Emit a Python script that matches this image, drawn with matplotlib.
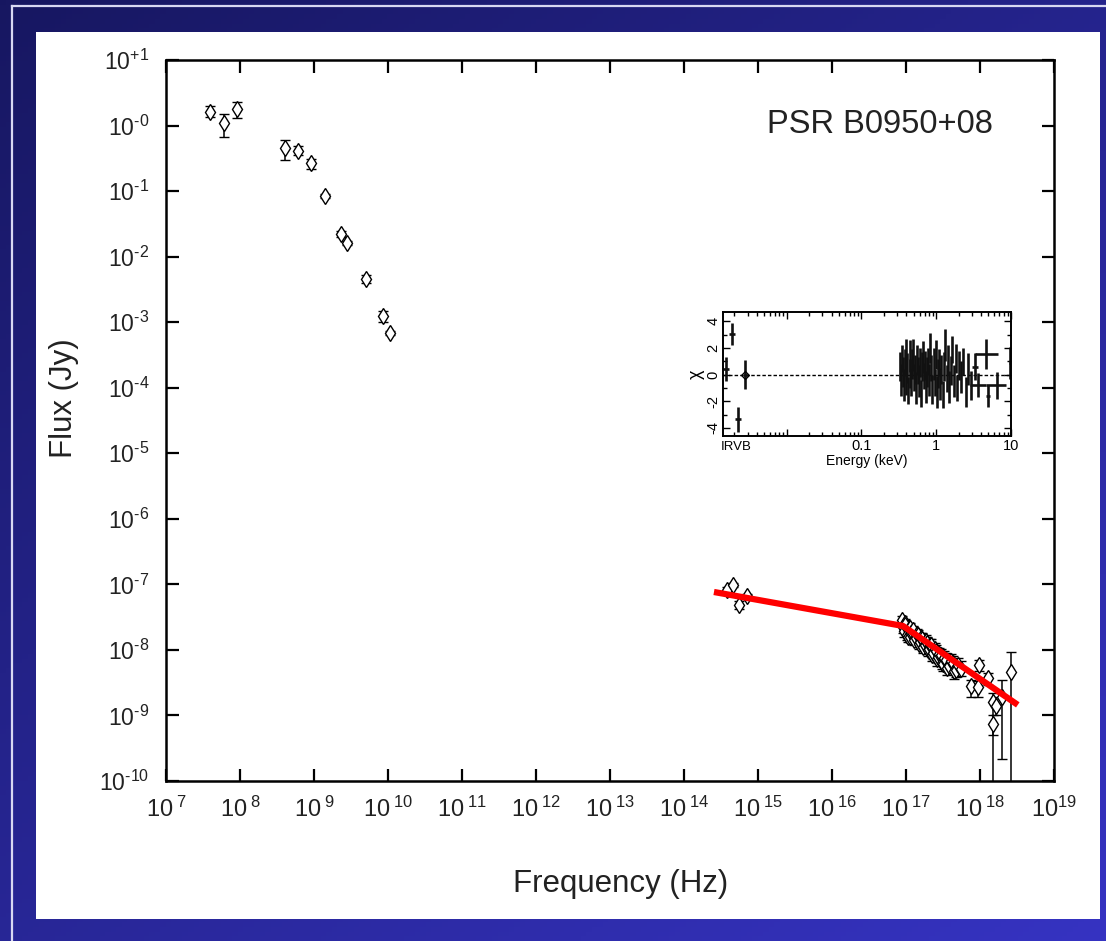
import numpy as np
import matplotlib
matplotlib.use("Agg")
import matplotlib.pyplot as plt
from matplotlib.patches import Rectangle
from matplotlib.ticker import FixedLocator, FixedFormatter, NullLocator, LogLocator, MultipleLocator

plt.rcParams['font.family'] = ['Liberation Sans', 'DejaVu Sans']
plt.rcParams['mathtext.fontset'] = 'custom'
plt.rcParams['mathtext.rm'] = 'Liberation Sans'
plt.rcParams['mathtext.it'] = 'Liberation Sans'
plt.rcParams['mathtext.bf'] = 'Liberation Sans'
plt.rcParams['axes.unicode_minus'] = False

# radio points (Hz, Jy) with lower / upper error bounds
radio_freq = [3.9e7, 6.0e7, 9.1e7, 4.1e8, 6.1e8, 9.1e8, 1.4e9, 2.3e9, 2.8e9, 5.0e9, 8.5e9, 1.07e10]
radio_flux = [1.61, 1.09, 1.79, 0.455, 0.41, 0.268, 0.084, 0.0222, 0.0161, 0.0046, 0.00125, 0.00068]
radio_low = [1.35, 0.67, 1.30, 0.30, 0.35, 0.217, 0.078, 0.0200, 0.0150, 0.0040, 0.00100, 0.00064]
radio_high = [1.99, 1.50, 2.28, 0.60, 0.48, 0.31, 0.090, 0.0248, 0.0174, 0.0053, 0.00148, 0.00073]

# optical IRVB
opt_freq = [3.8e14, 4.6e14, 5.5e14, 7.1e14]
opt_flux = [8.2e-8, 9.8e-8, 4.9e-8, 6.6e-8]
opt_low = [7.5e-8, 9.0e-8, 4.2e-8, 6.0e-8]
opt_high = [9.0e-8, 1.06e-7, 5.6e-8, 7.2e-8]

# soft X-ray spectrum
xray_freq = [8.9e16, 9.1e16, 9.3e16, 9.6e16, 9.8e16, 1.02e17, 1.05e17, 1.09e17, 1.12e17,
             1.15e17, 1.17e17, 1.22e17, 1.26e17, 1.30e17, 1.35e17, 1.40e17, 1.45e17,
             1.50e17, 1.55e17, 1.60e17, 1.66e17, 1.72e17, 1.78e17, 1.85e17, 1.91e17,
             1.98e17, 2.04e17, 2.12e17, 2.19e17, 2.27e17, 2.34e17, 2.43e17, 2.51e17,
             2.60e17, 2.69e17, 2.82e17, 2.95e17, 3.05e17, 3.16e17, 3.30e17, 3.47e17,
             3.63e17, 3.80e17, 4.05e17, 4.27e17, 4.50e17, 4.79e17, 5.10e17, 5.50e17]
xray_flux = [2.82e-8, 2.20e-8, 1.91e-8, 2.55e-8, 2.40e-8, 1.70e-8, 1.58e-8, 2.05e-8, 2.19e-8,
             1.60e-8, 1.78e-8, 1.90e-8, 2.00e-8, 1.42e-8, 1.51e-8, 1.75e-8, 1.66e-8,
             1.25e-8, 1.32e-8, 1.52e-8, 1.45e-8, 1.10e-8, 1.17e-8, 1.35e-8, 1.26e-8,
             9.8e-9, 1.05e-8, 1.18e-8, 1.20e-8, 8.4e-9, 8.9e-9, 1.02e-8, 9.5e-9,
             7.2e-9, 7.9e-9, 8.8e-9, 8.3e-9, 6.4e-9, 6.0e-9, 7.6e-9, 7.1e-9,
             5.3e-9, 5.6e-9, 6.8e-9, 6.3e-9, 4.7e-9, 5.0e-9, 5.8e-9, 5.2e-9]
xray_err_dex = [0.07, 0.08, 0.08, 0.07, 0.07, 0.08, 0.08, 0.07, 0.07,
                0.08, 0.08, 0.07, 0.07, 0.08, 0.08, 0.08, 0.08,
                0.09, 0.08, 0.08, 0.09, 0.09, 0.08, 0.09, 0.09,
                0.09, 0.08, 0.09, 0.09, 0.10, 0.09, 0.09, 0.09,
                0.10, 0.10, 0.09, 0.09, 0.10, 0.10, 0.10, 0.10,
                0.11, 0.10, 0.10, 0.11, 0.11, 0.11, 0.12, 0.12]

# hard X-ray bins
hx_freq = [7.6e17, 9.3e17, 9.8e17, 1.29e18, 1.5e18, 1.5e18, 1.66e18, 2.0e18, 2.6e18]
hx_flux = [2.8e-9, 2.7e-9, 5.9e-9, 3.7e-9, 1.6e-9, 7.4e-10, 1.4e-9, 1.9e-9, 4.6e-9]
hx_low = [1.9e-9, 1.9e-9, 4.8e-9, 2.9e-9, 1e-12, 5.0e-10, 1.0e-9, 2.2e-10, 1e-12]
hx_high = [3.5e-9, 3.4e-9, 7.1e-9, 4.5e-9, 2.2e-9, 1.02e-9, 1.9e-9, 3.5e-9, 9.3e-9]

# broken power-law model
model_freq = [2.54e14, 9.1e16, 3.24e18]
model_flux = [7.65e-8, 2.32e-8, 1.45e-9]

# residuals (inset)
irvb_energy = [0.00155, 0.00187, 0.00224, 0.0028]
irvb_chi = [0.45, 3.05, -3.35, 0.0]
irvb_err = [0.9, 0.8, 0.95, 1.1]

xr_energy = [0.33, 0.34, 0.35, 0.36, 0.37, 0.38, 0.39, 0.40, 0.41, 0.42, 0.44, 0.45, 0.46,
             0.48, 0.49, 0.51, 0.52, 0.54, 0.56, 0.57, 0.59, 0.61, 0.63, 0.65, 0.67, 0.69,
             0.71, 0.73, 0.76, 0.78, 0.81, 0.83, 0.86, 0.89, 0.92, 0.95, 0.98, 1.01, 1.05,
             1.09, 1.13, 1.17, 1.22, 1.27, 1.32, 1.38, 1.44, 1.50, 1.57, 1.65, 1.73, 1.82,
             1.92, 2.03, 2.15, 2.30, 2.48, 2.70, 2.95]
xr_chi = [0.6, -0.4, 1.2, 0.2, -0.8, 0.9, 1.6, -0.3, 0.5, -1.2, 1.4, 0.1, -0.6,
          0.8, 1.5, -0.2, 0.4, -1.0, 1.1, 0.3, -0.5, 0.9, -1.4, 0.6, 1.3, -0.1,
          0.7, -0.9, 0.2, 1.0, -0.4, 2.0, 0.5, -1.1, 0.8, -0.6, 1.5, -1.3, 0.1,
          0.9, -0.7, 0.4, -1.5, 0.6, 2.2, -0.3, 1.1, -0.9, 0.3, 1.9, -0.5, 1.2,
          -1.0, 0.7, -0.2, 1.0, -1.3, 0.4, -0.8]
xr_err = [1.1, 1.2, 1.0, 1.1, 1.2, 1.0, 1.1, 1.2, 1.1, 1.0, 1.2, 1.1, 1.0,
          1.1, 1.2, 1.0, 1.1, 1.2, 1.1, 1.0, 1.2, 1.1, 1.0, 1.1, 1.2, 1.0,
          1.1, 1.2, 1.1, 1.0, 1.2, 1.1, 1.0, 1.1, 1.2, 1.0, 1.1, 1.2, 1.1,
          1.0, 1.2, 1.1, 1.0, 1.1, 1.2, 1.0, 1.1, 1.2, 1.1, 1.0, 1.2, 1.1,
          1.0, 1.1, 1.2, 1.0, 1.1, 1.2, 1.1]

wide_energy = [3.3, 3.6, 4.6, 4.9, 6.5, 9.7]
wide_lo = [3.0, 2.8, 3.3, 4.6, 4.6, 9.3]
wide_hi = [3.6, 4.6, 6.6, 5.3, 8.6, 10.0]
wide_chi = [0.6, -0.8, 1.55, -1.6, -0.8, 0.9]
wide_err = [1.0, 0.9, 1.1, 0.8, 1.0, 1.2]

x_exp = list(range(7, 20))
y_exp = list(range(-10, 2))

W, H = 1106, 941
fig = plt.figure(figsize=(W / 100, H / 100), dpi=100)

# blue slide background
bg = fig.add_axes([0, 0, 1, 1], zorder=-10)
yy, xx = np.mgrid[0:1:200j, 0:1:200j]
t = (0.45 * xx + 0.55 * yy)[..., None]
c0 = np.array([0.09, 0.09, 0.38])
c1 = np.array([0.21, 0.20, 0.76])
bg.imshow(c0 + (c1 - c0) * t, extent=[0, 1, 0, 1], aspect='auto', origin='upper')
bg.set_xlim(0, 1)
bg.set_ylim(0, 1)
bg.axis('off')
bg.plot([12 / W, 1], [1 - 6 / H, 1 - 6 / H], color='#d8d8f2', lw=1.6)
bg.plot([12 / W, 12 / W], [0, 1 - 6 / H], color='#d8d8f2', lw=1.6)
bg.add_patch(Rectangle((36 / W, 1 - 919 / H), (1100 - 36) / W, (919 - 32) / H,
                       facecolor='white', edgecolor='none'))

ax = fig.add_axes([166 / W, 1 - 781 / H, 888 / W, 721 / H])
ax.set_xscale('log')
ax.set_yscale('log')
ax.set_xlim(1e7, 1e19)
ax.set_ylim(1e-10, 1e1)
ax.patch.set_alpha(0)

pts = dict(fmt='d', mfc='white', mec='black', ms=8, mew=1.0, ecolor='black',
           elinewidth=1.1, capsize=3.5, capthick=1.1, zorder=3)

rf = np.array(radio_flux)
ax.errorbar(radio_freq, rf, yerr=[rf - np.array(radio_low), np.array(radio_high) - rf], **pts)

of = np.array(opt_flux)
ax.errorbar(opt_freq, of, yerr=[of - np.array(opt_low), np.array(opt_high) - of], **pts)

xf = np.array(xray_flux)
xe = np.array(xray_err_dex)
ax.errorbar(xray_freq, xf, yerr=[xf - xf * 10 ** -xe, xf * 10 ** xe - xf], **pts)

hf = np.array(hx_flux)
ax.errorbar(hx_freq, hf, yerr=[hf - np.array(hx_low), np.array(hx_high) - hf], **pts)

ax.plot(model_freq, model_flux, color='#ff0000', lw=4.5, solid_capstyle='butt', zorder=4)

ax.xaxis.set_major_locator(FixedLocator([10.0 ** e for e in x_exp]))
ax.xaxis.set_major_formatter(FixedFormatter(
    [r'$10^{\;%d}$' % e if e < 19 else r'$10^{%d}$' % e for e in x_exp]))
ax.yaxis.set_major_locator(FixedLocator([10.0 ** e for e in y_exp]))
ax.yaxis.set_major_formatter(FixedFormatter(
    [r'$10^{\text{+1}}$' if e > 0 else r'$10^{\text{-%d}}$' % abs(e) for e in y_exp]))
ax.xaxis.set_minor_locator(NullLocator())
ax.yaxis.set_minor_locator(NullLocator())
ax.tick_params(which='major', direction='in', top=True, right=True, length=9, width=1.6,
               color='black')
ax.tick_params(axis='x', labelsize=17, pad=11, labelcolor='#222222')
ax.tick_params(axis='y', labelsize=16.5, pad=12, labelcolor='#222222')
for s in ax.spines.values():
    s.set_linewidth(1.8)

ax.text(0.804, 0.91, 'PSR B0950+08', transform=ax.transAxes, ha='center', va='center',
        fontsize=23.5, color='#222222')
fig.text(64 / W, 1 - 398 / H, 'Flux (Jy)', rotation=90, ha='center', va='center',
         fontsize=22.5, color='#222222')
fig.text(621 / W, 1 - 884 / H, 'Frequency (Hz)', ha='center', va='center', fontsize=22.5,
         color='#222222')

# residual inset
ins = fig.add_axes([723 / W, 1 - 436 / H, 288 / W, 124 / H])
ins.set_xscale('log')
ins.set_xlim(0.00141, 10)
ins.set_ylim(-4.6, 4.7)
ins.axhline(0, color='black', lw=1.0, ls=(0, (2.5, 1.5)), zorder=1)

res = dict(fmt='none', ecolor='#111111', elinewidth=1.9, capsize=0, zorder=2)
ins.errorbar(xr_energy, xr_chi, yerr=xr_err, **res)
we = np.array(wide_energy)
ins.errorbar(wide_energy, wide_chi, yerr=wide_err,
             xerr=[we - np.array(wide_lo), np.array(wide_hi) - we], **res)
ie = np.array(irvb_energy)
ins.errorbar(irvb_energy, irvb_chi, yerr=irvb_err,
             xerr=[ie * 0.08, ie * 0.08], **res)
ins.plot(irvb_energy[3], irvb_chi[3], marker='D', ms=4.5, mfc='none', mec='black', mew=0.9)

ins.xaxis.set_major_locator(FixedLocator([0.01, 0.1, 1, 10]))
ins.xaxis.set_major_formatter(FixedFormatter(['', '0.1', '1', '10']))
ins.xaxis.set_minor_locator(LogLocator(base=10, subs=np.arange(2, 10)))
ins.yaxis.set_major_locator(MultipleLocator(2))
ins.yaxis.set_minor_locator(MultipleLocator(1))
ins.tick_params(which='both', direction='in', top=True, right=True, width=1.0,
                labelsize=10.5, pad=2)
ins.tick_params(which='major', length=5)
ins.tick_params(which='minor', length=3)
for lbl in ins.get_yticklabels():
    lbl.set_rotation(90)
    lbl.set_va('center')
for s in ins.spines.values():
    s.set_linewidth(1.4)
ins.set_xlabel('Energy (keV)', fontsize=10, labelpad=1)
ins.set_ylabel('χ', fontsize=13, labelpad=1)
ins.text(0.0021, -5.0, 'IRVB', ha='center', va='top', fontsize=9.5, clip_on=False)

fig.savefig('out.png', dpi=100)
